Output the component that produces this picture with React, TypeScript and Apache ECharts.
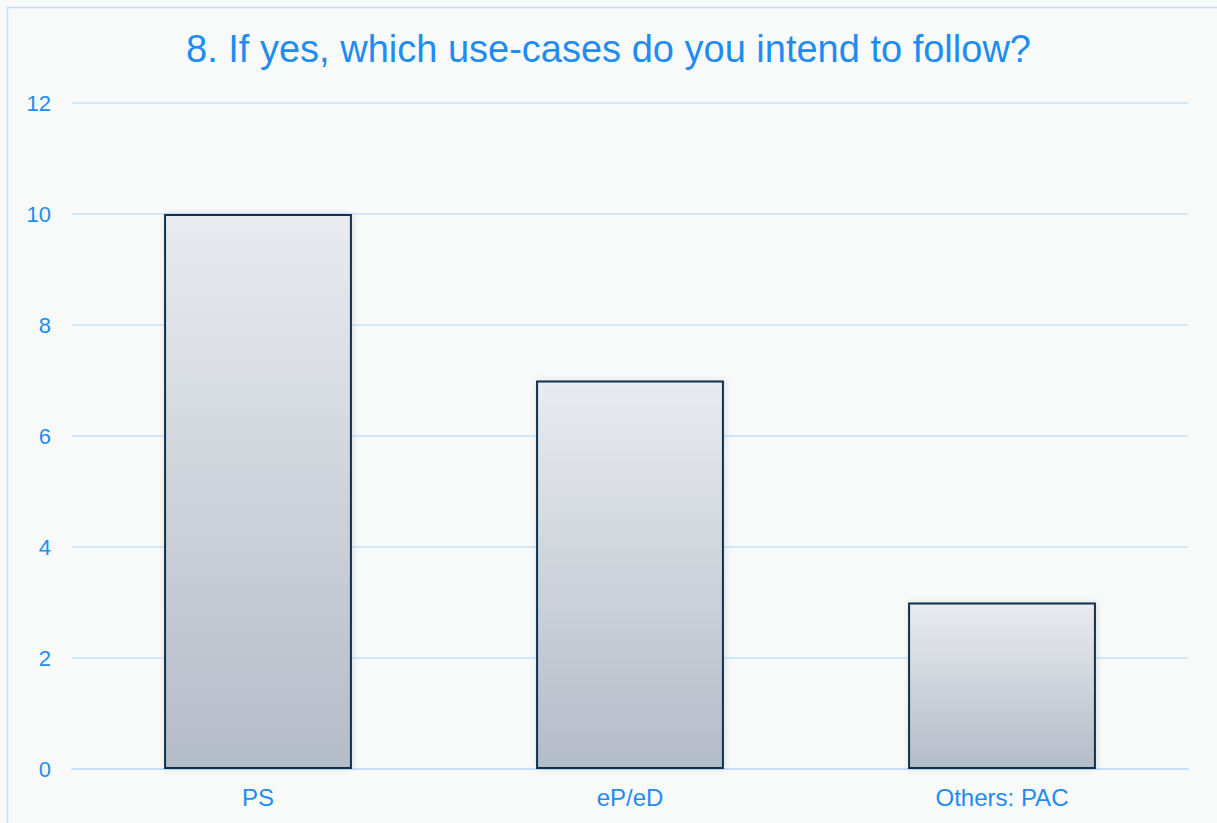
import React, { useEffect, useRef } from "react";
import * as echarts from "echarts";

const categories = ["PS", "eP/eD", "Others: PAC"];
const values = [10, 7, 3];
const titleText = "8. If yes, which use-cases do you intend to follow?";

export default function App() {
  const ref = useRef<HTMLDivElement>(null);
  useEffect(() => {
    document.body.style.margin = "0";
    const chart = echarts.init(ref.current!, null, { renderer: "svg" });
    chart.setOption({
      animation: false,
      backgroundColor: "#f8fafa",
      title: {
        text: titleText,
        left: "center",
        top: 25,
        textStyle: { color: "#1e8cf0", fontSize: 38, fontWeight: "normal", fontFamily: "Liberation Sans, Arial, sans-serif" },
      },
      graphic: [
        {
          type: "rect",
          shape: { x: 7.5, y: 7.5, width: 1300, height: 900 },
          style: { fill: "none", stroke: "#c3dcf5", lineWidth: 1.5 },
          silent: true,
          z: 100,
        },
      ],
      grid: { left: 72, right: 29, top: 103, bottom: 54 },
      xAxis: {
        type: "category",
        data: categories,
        axisLine: { lineStyle: { color: "#c5e0fa", width: 2 } },
        axisTick: { show: false },
        axisLabel: { color: "#1e8cf0", fontSize: 24, margin: 16, fontFamily: "Liberation Sans, Arial, sans-serif" },
      },
      yAxis: {
        type: "value",
        min: 0,
        max: 12,
        interval: 2,
        axisLine: { show: false },
        axisTick: { show: false },
        splitLine: { lineStyle: { color: "#c5e0fa", width: 1.5 } },
        axisLabel: { color: "#1e8cf0", fontSize: 22, margin: 21, fontFamily: "Liberation Sans, Arial, sans-serif" },
      },
      series: [
        {
          type: "bar",
          data: values,
          barWidth: "50.5%",
          itemStyle: {
            color: new echarts.graphic.LinearGradient(0, 0, 0, 1, [
              { offset: 0, color: "#e9ebef" },
              { offset: 1, color: "#b4bcc8" },
            ]),
            borderColor: "#0d3350",
            borderWidth: 2,
            shadowColor: "rgba(0,0,0,0.12)",
            shadowBlur: 6,
            shadowOffsetX: 1,
          },
        },
      ],
    });
    return () => chart.dispose();
  }, []);
  return <div ref={ref} style={{ width: 1217, height: 823 }} />;
}
